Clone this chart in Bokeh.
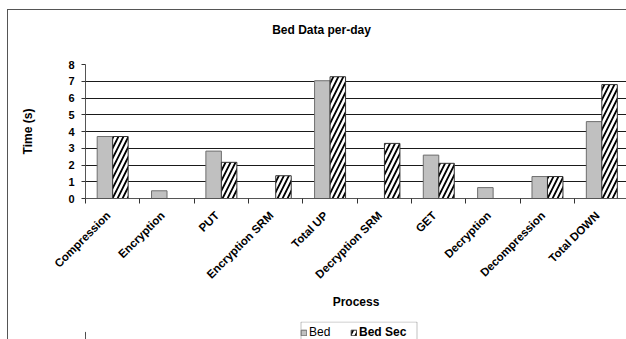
import numpy as np
from bokeh.plotting import figure
from bokeh.layouts import column
from bokeh.models import (ColumnDataSource, FixedTicker, Range1d, Legend, LegendItem,
                          BoxAnnotation, Label)
from bokeh.embed import file_html
from bokeh.resources import INLINE

# ---------------- data ----------------
categories = ["Compression", "Encryption", "PUT", "Encryption SRM", "Total UP",
              "Decryption SRM", "GET", "Decryption", "Decompression", "Total DOWN"]
bed = [3.70, 0.46, 2.83, 0.0, 7.03, 0.0, 2.59, 0.65, 1.31, 4.59]
bed_sec = [3.70, 0.0, 2.16, 1.36, 7.27, 3.29, 2.10, 0.0, 1.31, 6.80]
series_names = ["Bed", "Bed Sec"]
y_ticks = [0, 1, 2, 3, 4, 5, 6, 7, 8]
title_text = "Bed Data per-day"
x_title = "Process"
y_title = "Time (s)"

# ---------------- layout constants (window pixels) ----------------
WIN_W, WIN_H = 626, 339
OFF_X, OFF_Y = 8, 10                  # content origin after margin + 1px border
CW = WIN_W - OFF_X                    # content width
TITLE_BOTTOM, LEG_TOP = 50, 321
FRAME_L, FRAME_T, FRAME_B = 85, 64, 198
CAT_PX = 54.35
FONT = "Liberation Sans"
BAR_W = 0.285
SHIFT = 0.08

GRAY_STYLE = dict(fill_color="#c0c0c0", line_color="#6e6e6e", line_width=1)
HATCH_STYLE = dict(fill_color="white", line_color="#303030", line_width=1,
                   hatch_pattern="/", hatch_color="black", hatch_scale=10, hatch_weight=1.8)

# ---------------- title strip (frame aligned with the main frame) ----------------
th = TITLE_BOTTOM - OFF_Y
tf = figure(width=CW, height=th, output_backend="svg", toolbar_location=None,
            x_range=Range1d(FRAME_L, WIN_W), y_range=Range1d(0, th),
            x_axis_location=None, y_axis_location=None, min_border=0)
tf.grid.visible = False
tf.outline_line_color = None
tf.add_layout(Label(x=321, y=TITLE_BOTTOM - 29, text=title_text,
                    text_align="center", text_baseline="middle", text_font=FONT,
                    text_font_style="bold", text_font_size="12px", text_color="black"))

# ---------------- main chart ----------------
n = len(categories)
idx = np.arange(n) + SHIFT
x_start = SHIFT - 0.5
x_end = x_start + (WIN_W - FRAME_L) / CAT_PX
mh = LEG_TOP - TITLE_BOTTOM

p = figure(width=CW, height=mh, output_backend="svg", toolbar_location=None,
           x_range=Range1d(x_start, x_end), y_range=Range1d(0, 8),
           min_border_left=FRAME_L - OFF_X, min_border_right=0,
           min_border_top=FRAME_T - TITLE_BOTTOM, min_border_bottom=LEG_TOP - FRAME_B)
p.outline_line_color = None

bed_arr = np.array(bed)
sec_arr = np.array(bed_sec)
m1 = bed_arr > 0
m2 = sec_arr > 0
src1 = ColumnDataSource(dict(x=(idx - BAR_W / 2)[m1], top=bed_arr[m1]))
src2 = ColumnDataSource(dict(x=(idx + BAR_W / 2)[m2], top=sec_arr[m2]))
p.vbar(x="x", top="top", bottom=0, width=BAR_W, source=src1, **GRAY_STYLE)
p.vbar(x="x", top="top", bottom=0, width=BAR_W, source=src2, **HATCH_STYLE)

p.xgrid.visible = False
p.ygrid.ticker = FixedTicker(ticks=y_ticks)
p.ygrid.grid_line_color = "#1a1a1a"
p.ygrid.grid_line_width = 1
p.ygrid.level = "underlay"

xa = p.xaxis[0]
xa.ticker = FixedTicker(ticks=list(range(n)),
                        minor_ticks=[k - 0.5 + SHIFT for k in range(n + 1)])
xa.major_label_overrides = {int(i): c for i, c in enumerate(categories)}
xa.major_label_orientation = np.pi / 4
xa.major_tick_out = 0
xa.major_tick_in = 0
xa.minor_tick_out = 5
xa.minor_tick_in = 0
xa.minor_tick_line_color = "#333333"
xa.axis_line_color = "#555555"
xa.major_label_text_font = FONT
xa.major_label_text_font_style = "bold"
xa.major_label_text_font_size = "11.5px"
xa.major_label_text_color = "black"
xa.major_label_standoff = 10
xa.axis_label = x_title
xa.axis_label_text_font = FONT
xa.axis_label_text_font_style = "bold"
xa.axis_label_text_font_size = "12px"
xa.axis_label_text_color = "black"
xa.axis_label_standoff = 7

ya = p.yaxis[0]
ya.ticker = FixedTicker(ticks=y_ticks, minor_ticks=[])
ya.major_tick_out = 4
ya.major_tick_in = 0
ya.major_tick_line_color = "#333333"
ya.axis_line_color = "#555555"
ya.major_label_text_font = FONT
ya.major_label_text_font_style = "bold"
ya.major_label_text_font_size = "11px"
ya.major_label_text_color = "black"
ya.major_label_standoff = 7
ya.axis_label = y_title
ya.axis_label_text_font = FONT
ya.axis_label_text_font_style = "bold"
ya.axis_label_text_font_size = "12px"
ya.axis_label_text_color = "black"
ya.axis_label_standoff = 30

# ---------------- legend strip (frame aligned with the main frame) ----------------
lh = WIN_H - LEG_TOP
lf = figure(width=CW, height=lh, output_backend="svg", toolbar_location=None,
            x_range=Range1d(FRAME_L, WIN_W), y_range=Range1d(0, lh),
            x_axis_location=None, y_axis_location=None, min_border=0)
lf.grid.visible = False
lf.outline_line_color = None
# legend swatches reuse the series sources (their bars fall outside this strip's range)
lr1 = lf.vbar(x="x", top="top", bottom=0, width=BAR_W, source=src1, **GRAY_STYLE)
lr2 = lf.vbar(x="x", top="top", bottom=0, width=BAR_W, source=src2, **HATCH_STYLE)
common = dict(orientation="horizontal", glyph_width=7, glyph_height=7, label_standoff=2,
              padding=2, margin=0, spacing=0, border_line_color=None,
              background_fill_alpha=0, label_text_font=FONT, label_text_font_size="12px",
              label_height=12, label_text_color="black")
lf.add_layout(Legend(items=[LegendItem(label=series_names[0], renderers=[lr1])],
                     location=(300 - FRAME_L, 0), label_text_font_style="normal", **common))
lf.add_layout(Legend(items=[LegendItem(label=series_names[1], renderers=[lr2])],
                     location=(350 - FRAME_L, 0), label_text_font_style="bold", **common))
lf.add_layout(BoxAnnotation(left=300.5, right=416.5, top=WIN_H - LEG_TOP - 0.5, bottom=-5,
                            fill_color=None, line_color="#333333", line_width=1))

layout = column(tf, p, lf, spacing=0, margin=(OFF_Y - 1, 0, 0, OFF_X - 1),
                styles={"border-top": "1px solid #555555",
                        "border-left": "1px solid #555555"})

open("out.html", "w").write(file_html(layout, INLINE))
